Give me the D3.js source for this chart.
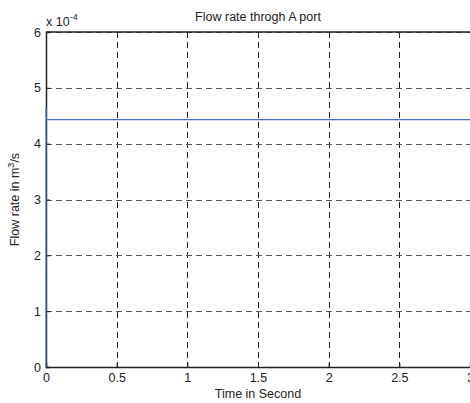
<!DOCTYPE html>
<html><head><meta charset="utf-8">
<script src="https://cdn.jsdelivr.net/npm/d3@7"></script>
<style>body{margin:0;background:#fff;} text{font-family:"Liberation Sans",Arial,sans-serif;}</style>
</head><body>
<svg id="c" width="470" height="403"></svg>
<script>
const timeS = [0, 0.0005, 0.002, 0.004, 3];
const flowE4 = [0, 4.66, 4.46, 4.43, 4.43];
const xTicks = [0, 0.5, 1, 1.5, 2, 2.5, 3];
const yTicks = [0, 1, 2, 3, 4, 5, 6];

const svg = d3.select("#c");
const L = 46, R = 470, T = 32, B = 367;
const FS = 12.5;
const x = d3.scaleLinear().domain([0, 3]).range([L, R]);
const y = d3.scaleLinear().domain([0, 6]).range([B, T]);

svg.append("rect").attr("x",0).attr("y",0).attr("width",470).attr("height",403).attr("fill","#fff");

// grid
const g = svg.append("g");
g.selectAll(".vg").data(xTicks.slice(1, -1)).join("line")
  .attr("x1", d => Math.round(x(d)) + 0.5).attr("x2", d => Math.round(x(d)) + 0.5)
  .attr("y1", T).attr("y2", B)
  .attr("stroke", "#222").attr("stroke-dasharray", "6,4");
g.selectAll(".hg").data(yTicks.slice(1, -1)).join("line")
  .attr("y1", d => Math.round(y(d)) + 0.5).attr("y2", d => Math.round(y(d)) + 0.5)
  .attr("x1", L).attr("x2", R)
  .attr("stroke", "#555").attr("stroke-dasharray", "6,4");
g.append("line").attr("x1", L).attr("x2", R).attr("y1", T + 0.5).attr("y2", T + 0.5)
  .attr("stroke", "#555").attr("stroke-dasharray", "6,4");

// axes with inward ticks
const xa = svg.append("g").attr("transform", `translate(0,${B})`)
  .call(d3.axisBottom(x).tickValues(xTicks).tickSize(-4).tickPadding(7).tickFormat(d => d3.format("")(d)));
const ya = svg.append("g").attr("transform", `translate(${L},0)`)
  .call(d3.axisLeft(y).tickValues(yTicks).tickSize(-4).tickPadding(5).tickFormat(d3.format("d")));
[xa, ya].forEach(a => {
  a.select(".domain").attr("stroke", "#222").attr("stroke-width", 1.5);
  a.selectAll(".tick line").attr("stroke", "#222");
  a.selectAll("text").attr("font-size", FS).attr("fill", "#222").attr("font-family", "Liberation Sans, Arial, sans-serif");
});
xa.selectAll("text").attr("dy", "0.6em");
svg.append("line").attr("x1", L).attr("x2", R).attr("y1", T).attr("y2", T).attr("stroke", "#222").attr("stroke-width", 1.5);

// data line
const line = d3.line().x(d => x(d[0])).y(d => y(d[1]));
svg.append("path").datum(timeS.map((t, i) => [t, flowE4[i]]))
  .attr("d", line).attr("fill", "none").attr("stroke", "#4a6ccc").attr("stroke-width", 1.2);

// title & labels
svg.append("text").attr("x", (L + R) / 2).attr("y", 21).attr("text-anchor", "middle")
  .attr("font-size", FS).attr("fill", "#222").text("Flow rate throgh A port");
svg.append("text").attr("x", (L + R) / 2).attr("y", 398).attr("text-anchor", "middle")
  .attr("font-size", FS).attr("fill", "#222").text("Time in Second");
const yl = svg.append("text").attr("transform", `translate(19,${(T + B) / 2}) rotate(-90)`)
  .attr("text-anchor", "middle").attr("font-size", FS).attr("fill", "#222");
yl.append("tspan").text("Flow rate in m");
yl.append("tspan").attr("dy", -5).attr("font-size", 9).text("3");
yl.append("tspan").attr("dy", 5).text("/s");
const ex = svg.append("text").attr("x", 46).attr("y", 26).attr("font-size", FS).attr("fill", "#222");
ex.append("tspan").text("x 10");
ex.append("tspan").attr("dy", -6).attr("font-size", 9).text("-4");
</script>
</body></html>
